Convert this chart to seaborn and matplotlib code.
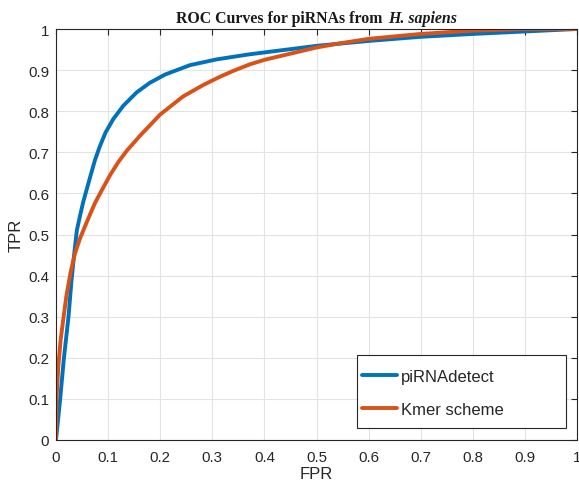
import matplotlib
matplotlib.use("Agg")
import matplotlib.pyplot as plt
from matplotlib.patches import Rectangle
import seaborn as sns
import pandas as pd

# piRNAdetect ROC
fpr_detect = [0.0, 0.008, 0.015, 0.024, 0.030, 0.036, 0.040, 0.046, 0.052, 0.059, 0.066, 0.075,
              0.084, 0.095, 0.11, 0.129, 0.155, 0.180, 0.209, 0.257, 0.308, 0.369, 0.4, 0.5, 0.6,
              0.7, 0.8, 0.9, 1.0]
tpr_detect = [0.0, 0.10, 0.197, 0.30, 0.392, 0.465, 0.51, 0.545, 0.578, 0.61, 0.642, 0.682,
              0.714, 0.748, 0.781, 0.813, 0.846, 0.869, 0.889, 0.912, 0.926, 0.938, 0.943, 0.959, 0.971,
              0.981, 0.988, 0.994, 1.0]

# Kmer scheme ROC
fpr_kmer = [0.0, 0.001, 0.0045, 0.009, 0.014, 0.020, 0.028, 0.036, 0.046, 0.0557, 0.065, 0.075,
            0.091, 0.104, 0.12, 0.136, 0.161, 0.2, 0.244, 0.283, 0.315, 0.34, 0.372, 0.4, 0.5,
            0.544, 0.6, 0.7, 0.8, 0.9, 1.0]
tpr_kmer = [0.0, 0.10, 0.18, 0.245, 0.294, 0.351, 0.408, 0.452, 0.49, 0.52, 0.548, 0.577,
            0.615, 0.645, 0.677, 0.704, 0.740, 0.792, 0.836, 0.864, 0.884, 0.898, 0.914, 0.925, 0.955,
            0.965, 0.976, 0.988, 0.996, 1.0, 1.0]

series_names = ["piRNAdetect", "Kmer scheme"]
colors = ["#0072BD", "#D95319"]

df = pd.concat([
    pd.DataFrame({"FPR": fpr_detect, "TPR": tpr_detect, "Method": series_names[0]}),
    pd.DataFrame({"FPR": fpr_kmer, "TPR": tpr_kmer, "Method": series_names[1]}),
], ignore_index=True)

sns.set_style("white")
plt.rcParams["font.family"] = ["Liberation Sans", "DejaVu Sans"]

fig = plt.figure(figsize=(5.79, 4.85), dpi=100)
ax = fig.add_axes([56 / 579, 44 / 485, 521 / 579, 411 / 485])

sns.lineplot(data=df, x="FPR", y="TPR", hue="Method", palette=colors, sort=False,
             linewidth=2.8, ax=ax, estimator=None)

ax.set_xlim(0, 1)
ax.set_ylim(0, 1)
ticks = [0, 0.1, 0.2, 0.3, 0.4, 0.5, 0.6, 0.7, 0.8, 0.9, 1]
ticklabels = ["0", "0.1", "0.2", "0.3", "0.4", "0.5", "0.6", "0.7", "0.8", "0.9", "1"]
ax.set_xticks(ticks)
ax.set_xticklabels(ticklabels)
ax.set_yticks(ticks)
ax.set_yticklabels(ticklabels)
ax.grid(True, color="#e3e3e3", linewidth=0.8)
ax.set_axisbelow(True)
for s in ax.spines.values():
    s.set_color("#262626")
    s.set_linewidth(0.8)
    s.set_visible(True)
ax.tick_params(axis="both", direction="in", length=4, width=0.8, color="#262626",
               labelcolor="#262626", labelsize=10.8, top=True, right=True)
ax.tick_params(axis="x", pad=7)
ax.tick_params(axis="y", pad=5)
ax.set_xlabel("FPR", fontsize=12, color="#262626", labelpad=2)
ax.set_ylabel("TPR", fontsize=12, color="#262626", labelpad=3)

# legend frame drawn as a box, entries placed inside it
frame = Rectangle((0.578, 0.029), 0.401, 0.178, transform=ax.transAxes, facecolor="white",
                  edgecolor="#262626", linewidth=0.8, zorder=5)
ax.add_patch(frame)
leg = ax.legend(loc="center left", bbox_to_anchor=((362 - 56) / 521, (441 - 394) / 411),
                fontsize=12, frameon=False, handlelength=2.1, handletextpad=0.25,
                borderpad=0, labelspacing=1.05, borderaxespad=0)
leg.set_zorder(6)
for line in leg.get_lines():
    line.set_linewidth(2.8)

ty = 1 - 23.3 / 485
serif = ["Liberation Serif", "DejaVu Serif"]
fig.text(382 / 579, ty, "ROC Curves for piRNAs from", ha="right", va="baseline",
         fontsize=11.4, fontweight="bold", family=serif, color="#1a1a1a")
fig.text(388 / 579, ty, "H. sapiens", ha="left", va="baseline",
         fontsize=11.4, fontweight="bold", fontstyle="italic", family=serif, color="#1a1a1a")

fig.savefig("out.png", dpi=100)
